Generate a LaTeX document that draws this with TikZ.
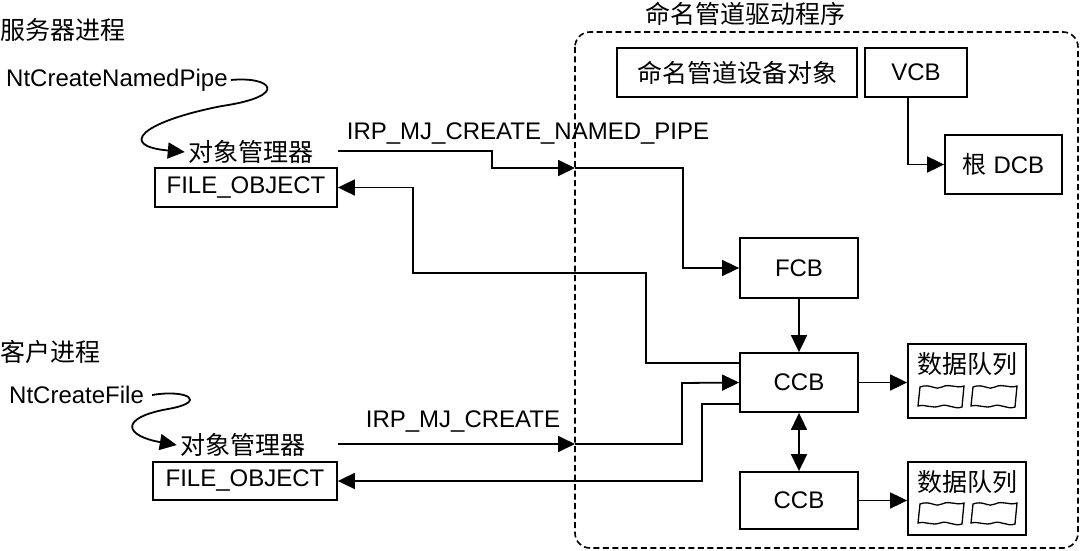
\documentclass[tikz,border=0pt]{standalone}
\usepackage{fontspec}
\setmainfont{Liberation Sans}
\newfontfamily\cjk{Noto Sans CJK SC}
\usetikzlibrary{arrows.meta}
\begin{document}
\begin{tikzpicture}[x=1pt,y=-1pt,
  every node/.style={font=\fontsize{24}{28}\selectfont},
  box/.style={draw,line width=1.8pt,inner sep=0pt},
  txt/.style={inner sep=0pt},
  conn/.style={line width=1.8pt},
  arr/.style={conn,-{Triangle[length=17pt,width=16pt]}},
  darr/.style={conn,{Triangle[length=17pt,width=16pt]}-{Triangle[length=17pt,width=16pt]}},
  cj/.style={font=\cjk\fontsize{25}{30}\selectfont},
  qicon/.pic={\draw[line width=1.3pt] (2,2) .. controls (12,-2) and (18,6) .. (24,2) .. controls (32,-2) and (38,4) .. (46,1) -- (44,22) .. controls (36,25) and (30,18) .. (22,21) .. controls (14,24) and (8,19) .. (0,21) -- cycle;}
]
\useasboundingbox (0,0) rectangle (1080,551);

% driver region
\draw[line width=1.6pt,dash pattern=on 6pt off 3.5pt,rounded corners=15pt] (575,32) rectangle (1078,548);
\node[txt,cj] (drv) at (745,14) {命名管道驱动程序};

\node[box,cj,minimum width=240,minimum height=49] (dev) at (737,72.5) {命名管道设备对象};
\node[box,minimum width=102,minimum height=49] (vcb) at (916,72.5) {VCB};
\node[box,minimum width=117,minimum height=59] (dcb) at (1003.5,164.5) {{\cjk 根} DCB};
\node[box,minimum width=118,minimum height=60] (fcb) at (799,268) {FCB};
\node[box,minimum width=118,minimum height=59] (ccb1) at (799,382.5) {CCB};
\node[box,minimum width=118,minimum height=57] (ccb2) at (799,500.5) {CCB};
\node[box,minimum width=118,minimum height=74] (dq1) at (967,381) {};
\node[box,minimum width=118,minimum height=73] (dq2) at (967,498.5) {};
\node[txt,cj] (dqt1) at (967,364) {数据队列};
\node[txt,cj] (dqt2) at (967,482) {数据队列};
\pic at (918,385) {qicon};
\pic at (971,385) {qicon};
\pic at (918,502) {qicon};
\pic at (971,502) {qicon};

% server side
\node[txt,cj,anchor=west] (srv) at (0,30) {服务器进程};
\node[txt,anchor=west] (nt1) at (6,80) {NtCreateNamedPipe};
\node[txt,cj] (om1) at (250.5,152) {对象管理器};
\node[box,minimum width=182,minimum height=39] (fo1) at (246,187.5) {FILE\_OBJECT};
\node[txt] (irp1) at (528,134) {IRP\_MJ\_CREATE\_NAMED\_PIPE};

% client side
\node[txt,cj,anchor=west] (cli) at (0,352) {客户进程};
\node[txt,anchor=west] (nt2) at (9,395) {NtCreateFile};
\node[txt,cj] (om2) at (242.5,445) {对象管理器};
\node[box,minimum width=184,minimum height=38] (fo2) at (245,481) {FILE\_OBJECT};
\node[txt] (irp2) at (463,422) {IRP\_MJ\_CREATE};

% coordinates
\coordinate (c1) at (492,168);
\coordinate (b1) at (575,168);
\coordinate (c2) at (683,268);
\coordinate (p1) at (646,273);
\coordinate (p2) at (413,273);
\coordinate (b2) at (575,444);
\coordinate (p3) at (682,383);
\coordinate (p4) at (702,481);
\coordinate (cm1) at (222,106);
\coordinate (cm2) at (168,409);
\coordinate (v1) at (908,160);

% curly arrows
\draw[arr] ([xshift=3pt]nt1.east) .. controls (272,76) and (290,96) .. (cm1) .. controls (140,122) and (118,146) .. ([xshift=-3pt]om1.west);
\draw[arr] ([xshift=8pt]nt2.east) .. controls (188,389) and (208,402) .. (cm2) .. controls (118,418) and (125,436) .. ([xshift=-3pt]om2.west);

% connectors
\draw[arr] (fo1.east |- 0,151) -| (c1) -- (b1);
\draw[arr] (b1) -| (c2) -- (fcb.west);
\draw[arr] ([yshift=19.5pt]ccb1.west) -| (p1) -- (p2) |- (fo1.east);
\draw[arr] (fo2.east |- 0,444) -- (b2);
\draw[arr] (b2) -| (p3) -- (ccb1.west);
\draw[arr] ([yshift=-21.5pt]ccb1.west) -| (p4) -- (fo2.east);
\draw[arr] (vcb.south -| v1) |- (dcb.west);
\draw[arr] (fcb.south) -- (ccb1.north);
\draw[darr] (ccb1.south) -- (ccb2.north);
\draw[arr] (ccb1.east) -- (dq1.west |- ccb1.east);
\draw[arr] (ccb2.east) -- (dq2.west |- ccb2.east);
\end{tikzpicture}
\end{document}
